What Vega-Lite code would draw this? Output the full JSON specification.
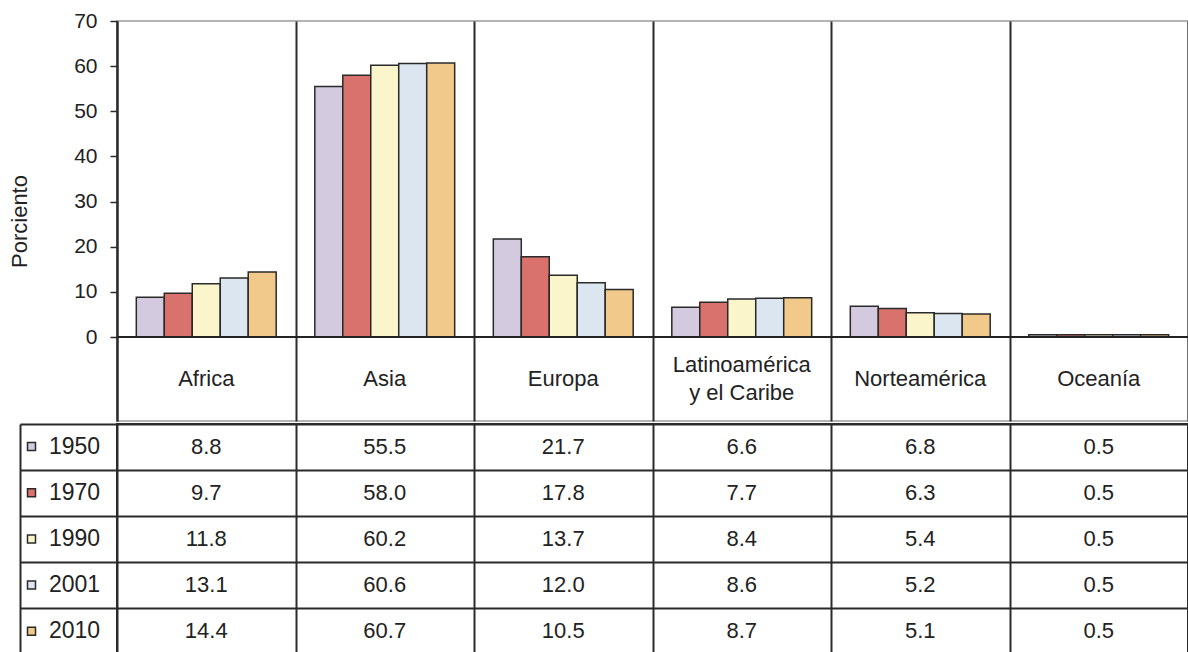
{
  "$schema": "https://vega.github.io/schema/vega-lite/v6.json",
  "padding": {"left": 7, "top": 9, "right": 0, "bottom": 0},
  "background": "white",
  "config": {"font": "Liberation Sans", "concat": {"spacing": 0}, "view": {"stroke": null}},
  "datasets": {
    "pop": [
      {"region": "Africa", "year": "1950", "value": 8.8},
      {"region": "Africa", "year": "1970", "value": 9.7},
      {"region": "Africa", "year": "1990", "value": 11.8},
      {"region": "Africa", "year": "2001", "value": 13.1},
      {"region": "Africa", "year": "2010", "value": 14.4},
      {"region": "Asia", "year": "1950", "value": 55.5},
      {"region": "Asia", "year": "1970", "value": 58.0},
      {"region": "Asia", "year": "1990", "value": 60.2},
      {"region": "Asia", "year": "2001", "value": 60.6},
      {"region": "Asia", "year": "2010", "value": 60.7},
      {"region": "Europa", "year": "1950", "value": 21.7},
      {"region": "Europa", "year": "1970", "value": 17.8},
      {"region": "Europa", "year": "1990", "value": 13.7},
      {"region": "Europa", "year": "2001", "value": 12.0},
      {"region": "Europa", "year": "2010", "value": 10.5},
      {"region": "Latinoamérica y el Caribe", "year": "1950", "value": 6.6},
      {"region": "Latinoamérica y el Caribe", "year": "1970", "value": 7.7},
      {"region": "Latinoamérica y el Caribe", "year": "1990", "value": 8.4},
      {"region": "Latinoamérica y el Caribe", "year": "2001", "value": 8.6},
      {"region": "Latinoamérica y el Caribe", "year": "2010", "value": 8.7},
      {"region": "Norteamérica", "year": "1950", "value": 6.8},
      {"region": "Norteamérica", "year": "1970", "value": 6.3},
      {"region": "Norteamérica", "year": "1990", "value": 5.4},
      {"region": "Norteamérica", "year": "2001", "value": 5.2},
      {"region": "Norteamérica", "year": "2010", "value": 5.1},
      {"region": "Oceanía", "year": "1950", "value": 0.5},
      {"region": "Oceanía", "year": "1970", "value": 0.5},
      {"region": "Oceanía", "year": "1990", "value": 0.5},
      {"region": "Oceanía", "year": "2001", "value": 0.5},
      {"region": "Oceanía", "year": "2010", "value": 0.5}
    ],
    "regions": [
      {"region": "Africa", "label": "Africa"},
      {"region": "Asia", "label": "Asia"},
      {"region": "Europa", "label": "Europa"},
      {"region": "Norteamérica", "label": "Norteamérica"},
      {"region": "Oceanía", "label": "Oceanía"}
    ],
    "regions2": [
      {"region": "Latinoamérica y el Caribe", "label": "Latinoamérica\ny el Caribe"}
    ]
  },
  "resolve": {"scale": {"x": "independent", "y": "independent"}},
  "vconcat": [
    {
      "width": 1071,
      "height": 400,
      "view": {"stroke": "#9a9a9a", "strokeWidth": 1.5},
      "layer": [
        {
          "data": {"name": "pop"},
          "mark": {"type": "bar", "stroke": "#2a2a2a", "strokeWidth": 1.5},
          "encoding": {
            "x": {
              "field": "region", "type": "nominal", "sort": null,
              "scale": {"domain": ["Africa", "Asia", "Europa", "Latinoamérica y el Caribe", "Norteamérica", "Oceanía"], "paddingInner": 0, "paddingOuter": 0},
              "axis": {"title": null, "labels": false, "ticks": false, "domain": false, "grid": true, "tickBand": "extent", "gridColor": "#2a2a2a", "gridWidth": 2, "gridOpacity": 1}
            },
            "xOffset": {"field": "year", "type": "nominal", "sort": null, "scale": {"paddingInner": 0, "paddingOuter": 0.69}},
            "y": {
              "field": "value", "type": "quantitative", "stack": null,
              "scale": {"domain": [-18.6, 70], "nice": false, "zero": false},
              "axis": {"values": [0, 10, 20, 30, 40, 50, 60, 70], "title": "Porciento", "titleFontSize": 22, "titleFontWeight": "normal", "titleColor": "#222", "titlePadding": 42, "labelFontSize": 21, "labelColor": "#222", "labelPadding": 13, "tickSize": 7, "tickColor": "#2a2a2a", "tickWidth": 1.5, "domainColor": "#2a2a2a", "domainWidth": 2, "grid": false}
            },
            "y2": {"datum": 0},
            "color": {
              "field": "year", "type": "nominal", "sort": null,
              "scale": {"domain": ["1950", "1970", "1990", "2001", "2010"], "range": ["#d3cae0", "#d9726c", "#fbf5cc", "#dbe6f1", "#f0c98b"]},
              "legend": {"orient": "none", "legendX": -97, "legendY": 414, "title": null, "symbolType": "square", "symbolSize": 64, "symbolStrokeColor": "#2a2a2a", "symbolStrokeWidth": 1.5, "symbolOpacity": 1, "labelFontSize": 23, "labelColor": "#222", "labelOffset": 6, "rowPadding": 22.2, "padding": 0}
            }
          }
        },
        {
          "data": {"values": [{}]},
          "mark": {"type": "rule", "color": "#222", "strokeWidth": 2},
          "encoding": {"y": {"datum": 0}}
        },
        {
          "data": {"name": "regions"},
          "mark": {"type": "text", "fontSize": 22, "baseline": "middle", "color": "#222"},
          "encoding": {
            "x": {"field": "region", "type": "nominal", "sort": null},
            "y": {"datum": -9.3},
            "text": {"field": "label"}
          }
        },
        {
          "data": {"name": "regions2"},
          "mark": {"type": "text", "fontSize": 22, "lineBreak": "\n", "baseline": "middle", "lineHeight": 28, "color": "#222"},
          "encoding": {
            "x": {"field": "region", "type": "nominal", "sort": null},
            "y": {"datum": -6.2},
            "text": {"field": "label"}
          }
        }
      ]
    },
    {
      "width": 1071,
      "height": 230,
      "view": {"stroke": "#2a2a2a", "strokeWidth": 2},
      "data": {"name": "pop"},
      "layer": [
        {
          "mark": {"type": "text", "fontSize": 22, "color": "#222", "baseline": "middle"},
          "encoding": {
            "x": {
              "field": "region", "type": "nominal", "sort": null,
              "scale": {"domain": ["Africa", "Asia", "Europa", "Latinoamérica y el Caribe", "Norteamérica", "Oceanía"], "paddingInner": 0, "paddingOuter": 0},
              "axis": {"title": null, "labels": false, "ticks": false, "domain": false, "grid": true, "tickBand": "extent", "gridColor": "#2a2a2a", "gridWidth": 2, "gridOpacity": 1}
            },
            "y": {
              "field": "year", "type": "nominal", "sort": null,
              "scale": {"domain": ["1950", "1970", "1990", "2001", "2010"], "paddingInner": 0, "paddingOuter": 0},
              "axis": {"title": null, "labels": false, "domain": false, "ticks": true, "tickSize": 97, "tickBand": "extent", "tickColor": "#2a2a2a", "tickWidth": 2, "grid": true, "gridColor": "#2a2a2a", "gridWidth": 2, "gridOpacity": 1}
            },
            "text": {"field": "value", "type": "quantitative", "format": ".1f"}
          }
        },
        {
          "mark": {"type": "text", "opacity": 0},
          "encoding": {
            "y": {
              "field": "year", "type": "nominal", "sort": null,
              "scale": {"domain": ["1950", "1970", "1990", "2001", "2010"], "paddingInner": 0, "paddingOuter": 0},
              "axis": {"orient": "left", "offset": 97, "title": null, "labels": false, "ticks": false, "grid": false, "domain": true, "domainColor": "#2a2a2a", "domainWidth": 2}
            },
            "text": {"field": "value", "type": "quantitative"}
          }
        }
      ],
      "resolve": {"scale": {"y": "independent"}, "axis": {"y": "independent"}}
    }
  ]
}
